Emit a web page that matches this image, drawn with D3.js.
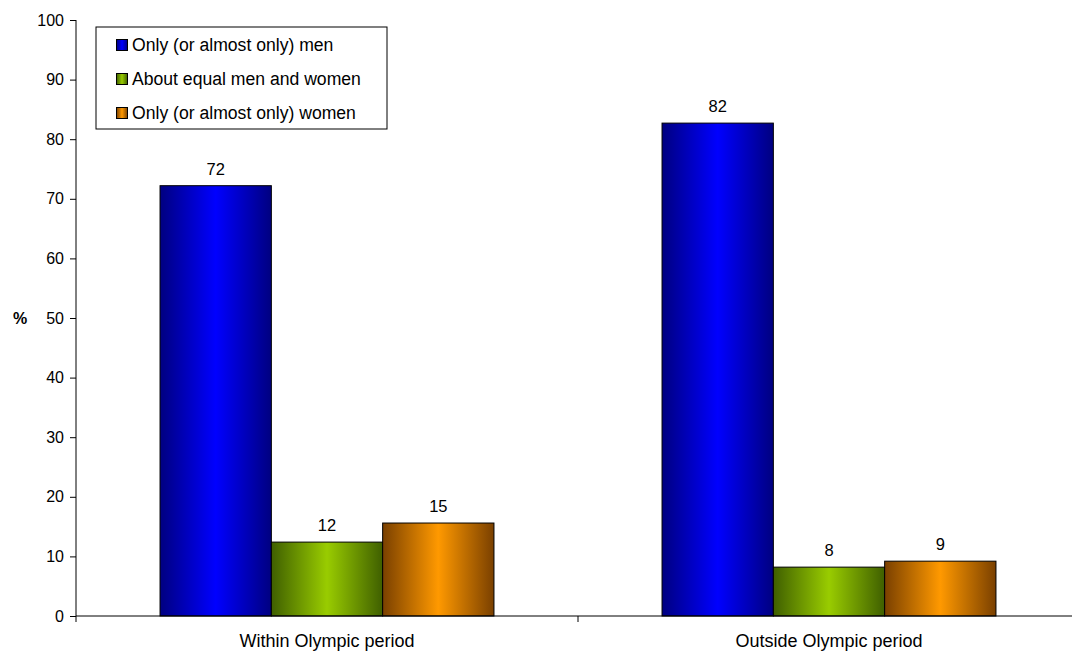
<!DOCTYPE html>
<html>
<head>
<meta charset="utf-8">
<script src="https://cdn.jsdelivr.net/npm/d3@7"></script>
<style>
  html, body { margin: 0; padding: 0; background: #fff; }
  svg { display: block; font-family: "Liberation Sans", Arial, sans-serif; }
</style>
</head>
<body>
<svg id="chart" width="1072" height="652"></svg>
<script>
const categories = ["Within Olympic period", "Outside Olympic period"];
const seriesNames = ["Only (or almost only) men", "About equal men and women", "Only (or almost only) women"];
const menValues = [72.2, 82.7];
const equalValues = [12.4, 8.2];
const womenValues = [15.6, 9.2];
const menLabels = ["72", "82"];
const equalLabels = ["12", "8"];
const womenLabels = ["15", "9"];
const yTicks = [0, 10, 20, 30, 40, 50, 60, 70, 80, 90, 100];

const series = [
  { name: seriesNames[0], values: menValues, labels: menLabels, dark: "#000080", light: "#0000ff" },
  { name: seriesNames[1], values: equalValues, labels: equalLabels, dark: "#3f5f00", light: "#99cc00" },
  { name: seriesNames[2], values: womenValues, labels: womenLabels, dark: "#7a4000", light: "#ff9900" }
];

(function () {
const svg = d3.select("#chart");
const mLeft = 76, mRight = 1080, mTop = 20, mBottom = 616;

const y = d3.scaleLinear().domain([0, 100]).range([mBottom, mTop]);
const x0 = d3.scaleBand().domain(categories).range([mLeft, mRight]).paddingInner(0).paddingOuter(0);
const x1 = d3.scaleBand().domain(seriesNames).range([0, x0.bandwidth()]).paddingInner(0).paddingOuter(0.755);

const defs = svg.append("defs");
series.forEach((s, i) => {
  const g = defs.append("linearGradient").attr("id", "grad" + i)
    .attr("x1", "0%").attr("x2", "100%").attr("y1", "0%").attr("y2", "0%");
  g.append("stop").attr("offset", "0%").attr("stop-color", s.dark);
  g.append("stop").attr("offset", "50%").attr("stop-color", s.light);
  g.append("stop").attr("offset", "100%").attr("stop-color", s.dark);
});

// bars
series.forEach((s, i) => {
  const grp = svg.append("g");
  grp.selectAll("rect").data(categories).enter().append("rect")
    .attr("x", (c) => x0(c) + x1(s.name))
    .attr("y", (c, j) => y(s.values[j]))
    .attr("width", x1.bandwidth())
    .attr("height", (c, j) => y(0) - y(s.values[j]))
    .attr("fill", `url(#grad${i})`)
    .attr("stroke", "#000").attr("stroke-width", 1);
  grp.selectAll("text").data(categories).enter().append("text")
    .attr("x", (c) => x0(c) + x1(s.name) + x1.bandwidth() / 2)
    .attr("y", (c, j) => y(s.values[j]) - 11)
    .attr("text-anchor", "middle")
    .attr("font-size", 16.5)
    .attr("fill", "#000")
    .text((c, j) => s.labels[j]);
});

// y axis
const yAxis = d3.axisLeft(y).tickValues(yTicks).tickSize(6).tickPadding(6);
const ya = svg.append("g").attr("transform", `translate(${mLeft},0)`).call(yAxis);
ya.select(".domain").attr("stroke", "#000").attr("d", `M0,${mTop}V${mBottom}`);
ya.selectAll("text").attr("font-size", 16).attr("font-family", "Liberation Sans, Arial, sans-serif").attr("fill", "#000");
ya.selectAll("line").attr("stroke", "#000");

// x axis
const xa = svg.append("g").attr("transform", `translate(0,${mBottom})`);
xa.append("line").attr("x1", mLeft).attr("x2", mRight).attr("y1", 0).attr("y2", 0).attr("stroke", "#000");
const boundaries = categories.map(c => x0(c)).concat([x0(categories[categories.length - 1]) + x0.bandwidth()]);
xa.selectAll("line.tick").data(boundaries).enter().append("line").attr("class", "tick")
  .attr("x1", d => d).attr("x2", d => d).attr("y1", 0).attr("y2", 6).attr("stroke", "#000");
xa.selectAll("text").data(categories).enter().append("text")
  .attr("x", c => x0(c) + x0.bandwidth() / 2)
  .attr("y", 31)
  .attr("text-anchor", "middle")
  .attr("font-size", 18)
  .attr("fill", "#000")
  .text(c => c);

// y label
svg.append("text").attr("x", 20).attr("y", y(50) + 6).attr("text-anchor", "middle")
  .attr("font-size", 16).attr("font-weight", "bold").text("%");

// legend
const lg = svg.append("g").attr("transform", "translate(96,27)");
lg.append("rect").attr("x", 0).attr("y", 0).attr("width", 291).attr("height", 102)
  .attr("fill", "#fff").attr("stroke", "#000").attr("stroke-width", 1);
series.forEach((s, i) => {
  const cy = 18 + i * 34;
  lg.append("rect").attr("x", 20.5).attr("y", cy - 5.5).attr("width", 11).attr("height", 11)
    .attr("fill", `url(#grad${i})`).attr("stroke", "#000");
  lg.append("text").attr("x", 36).attr("y", cy + 6).attr("font-size", 17.6).attr("fill", "#000").text(s.name);
});
})();
</script>
</body>
</html>
